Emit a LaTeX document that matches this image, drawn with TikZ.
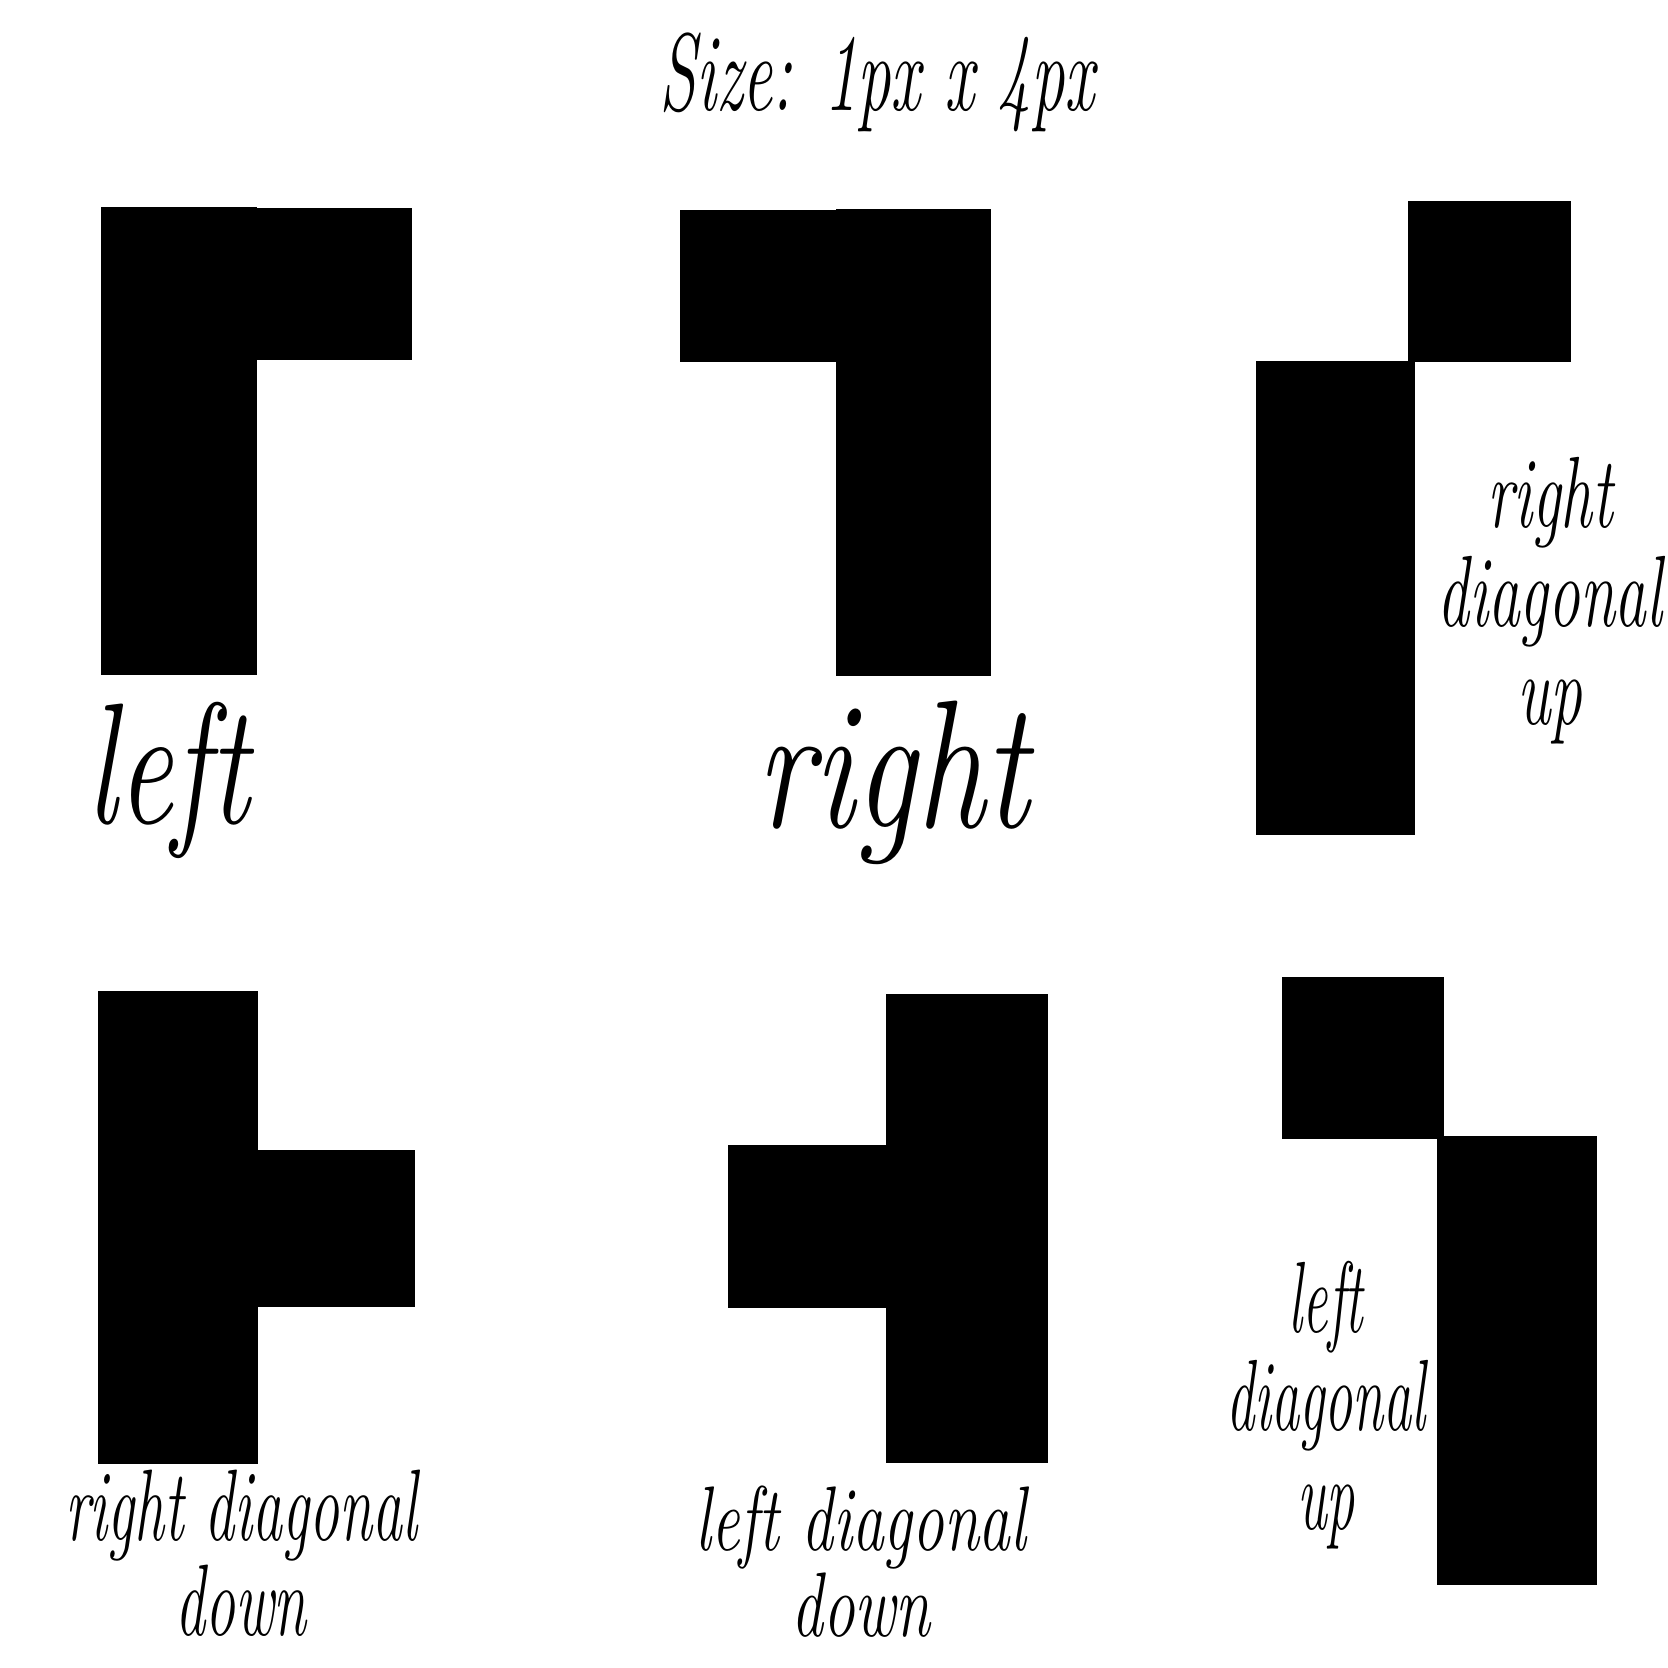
\documentclass[tikz,border=0pt]{standalone}
\newcommand{\tall}[2]{\scalebox{1}[#1]{#2}}
\begin{document}
\begin{tikzpicture}[
  x=0.01cm, y=-0.01cm,
  piece/.style={fill=black},
  handnote/.style={inner sep=0pt, align=center}
]
\useasboundingbox (0,0) rectangle (1668,1668);
\node[handnote, font=\fontsize{19}{24}\selectfont\itshape] (size) at (877,82) {\tall{1.65}{Size: 1px x 4px}};
\fill[piece] (101,207) rectangle (257,675);
\fill[piece] (257,208) rectangle (412,360);
\fill[piece] (680,210) rectangle (836,362);
\fill[piece] (836,209) rectangle (991,676);
\fill[piece] (1408,201) rectangle (1571,362);
\fill[piece] (1256,361) rectangle (1415,835);
\fill[piece] (98,991) rectangle (258,1464);
\fill[piece] (258,1150) rectangle (415,1307);
\fill[piece] (886,994) rectangle (1048,1463);
\fill[piece] (728,1145) rectangle (886,1308);
\fill[piece] (1282,977) rectangle (1444,1139);
\fill[piece] (1437,1136) rectangle (1597,1585);
\node[handnote, font=\fontsize{35}{40}\selectfont\itshape] (left) at (168,780) {\tall{1.4}{left}};
\node[handnote, font=\fontsize{39}{44}\selectfont\itshape] (right) at (893,783) {\tall{1.33}{right}};
\node[handnote, font=\fontsize{18}{28}\selectfont\itshape] (rdup) at (1550,601) {\tall{1.6}{right}\\\tall{1.6}{diagonal}\\\tall{1.6}{up}};
\node[handnote, font=\fontsize{17}{24}\selectfont\itshape] (rddown) at (241,1553) {\tall{1.7}{right diagonal}\\\tall{1.7}{down}};
\node[handnote, font=\fontsize{18}{22}\selectfont\itshape] (lddown) at (861,1562) {\tall{1.45}{left diagonal}\\\tall{1.45}{down}};
\node[handnote, font=\fontsize{16}{28}\selectfont\itshape] (ldup) at (1326,1405) {\tall{1.8}{left}\\\tall{1.8}{diagonal}\\\tall{1.8}{up}};
\end{tikzpicture}
\end{document}
